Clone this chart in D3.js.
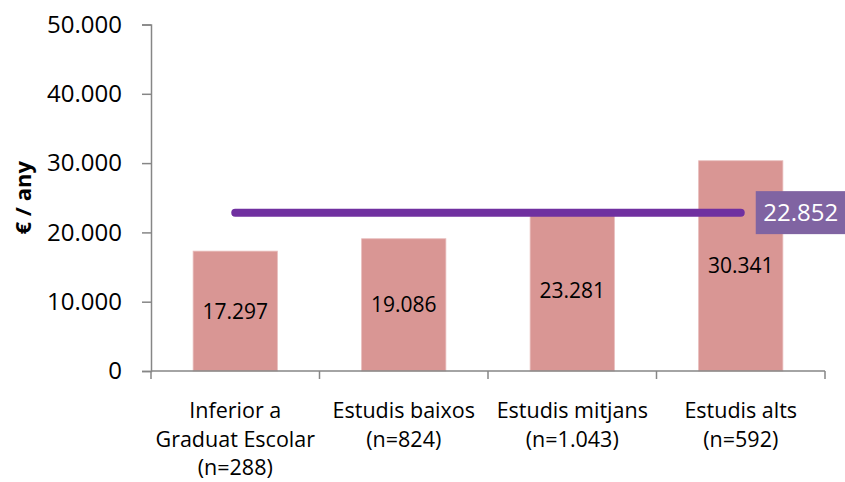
<!DOCTYPE html>
<html>
<head>
<meta charset="utf-8">
<script src="https://cdn.jsdelivr.net/npm/d3@7"></script>
<style>
  body { margin: 0; background: #fff; }
  svg { display: block; font-family: "Open Sans", sans-serif; }
</style>
</head>
<body>
<div id="chart"></div>
<script>
// categories (each label split in lines) and values
var categories = [
    ["Inferior a", "Graduat Escolar", "(n=288)"],
    ["Estudis baixos", "(n=824)"],
    ["Estudis mitjans", "(n=1.043)"],
    ["Estudis alts", "(n=592)"]
];
var values = [17297, 19086, 23281, 30341];
var average = 22852;
var yTicks = [0, 10000, 20000, 30000, 40000, 50000];

var width = 845, height = 482;
var margin = {left: 151, right: 20, top: 24.5, bottom: 111};

var fmt = d3.formatLocale({decimal: ",", thousands: ".", grouping: [3], currency: ["", "€"]}).format(",d");

var svg = d3.select("#chart").append("svg")
    .attr("width", width)
    .attr("height", height);

var x = d3.scaleBand()
    .domain(d3.range(categories.length))
    .range([margin.left, width - margin.right])
    .paddingInner(0.5)
    .paddingOuter(0.25);

var y = d3.scaleLinear()
    .domain([0, 50000])
    .range([height - margin.bottom, margin.top]);

// bars
svg.append("g")
    .selectAll("rect")
    .data(values)
    .join("rect")
    .attr("x", (d, i) => x(i))
    .attr("y", d => y(d))
    .attr("width", x.bandwidth())
    .attr("height", d => y(0) - y(d))
    .attr("fill", "#D99694")
    .attr("stroke", "#E8BDBC")
    .attr("stroke-width", 0.8);

// bar labels, centred in the bar
svg.append("g")
    .selectAll("text")
    .data(values)
    .join("text")
    .attr("x", (d, i) => x(i) + x.bandwidth() / 2)
    .attr("y", d => (y(d) + y(0)) / 2)
    .attr("dy", "0.36em")
    .attr("text-anchor", "middle")
    .attr("font-size", 21)
    .attr("fill", "#000")
    .text(d => fmt(d));

// y axis
var yAxis = svg.append("g")
    .attr("transform", `translate(${margin.left},0)`)
    .call(d3.axisLeft(y).tickValues(yTicks).tickSize(9).tickPadding(20).tickFormat(fmt));
yAxis.select(".domain").attr("stroke", "#868686").attr("stroke-width", 1.5);
yAxis.selectAll(".tick line").attr("stroke", "#868686").attr("stroke-width", 1.5);
yAxis.selectAll(".tick text")
    .attr("font-size", 24)
    .attr("font-family", "Open Sans, sans-serif")
    .attr("fill", "#000");

// x axis: ticks at category boundaries
var xAxisG = svg.append("g");
xAxisG.append("line")
    .attr("x1", margin.left).attr("x2", width - margin.right)
    .attr("y1", y(0)).attr("y2", y(0))
    .attr("stroke", "#868686").attr("stroke-width", 1.5);
var bounds = d3.range(categories.length + 1).map(i => margin.left + i * x.step());
xAxisG.selectAll("line.tk")
    .data(bounds)
    .join("line")
    .attr("class", "tk")
    .attr("x1", d => d).attr("x2", d => d)
    .attr("y1", y(0)).attr("y2", y(0) + 8)
    .attr("stroke", "#868686").attr("stroke-width", 1.5);

// category labels
var catText = svg.append("g")
    .selectAll("text")
    .data(categories)
    .join("text")
    .attr("text-anchor", "middle")
    .attr("font-size", 21.5)
    .attr("fill", "#000")
    .attr("transform", (d, i) => `translate(${x(i) + x.bandwidth() / 2},${y(0) + 47})`);
catText.selectAll("tspan")
    .data(d => d)
    .join("tspan")
    .attr("x", 0)
    .attr("y", (d, i) => i * 28.5)
    .text(d => d);

// y axis title
svg.append("text")
    .attr("transform", `translate(31,${(y(0) + y(50000)) / 2}) rotate(-90)`)
    .attr("text-anchor", "middle")
    .attr("font-size", 22)
    .attr("font-weight", "bold")
    .attr("fill", "#000")
    .text("€ / any");

// average line
var xStart = x(0) + x.bandwidth() / 2;
var xEnd = x(categories.length - 1) + x.bandwidth() / 2;
svg.append("line")
    .attr("x1", xStart).attr("x2", xEnd)
    .attr("y1", y(average)).attr("y2", y(average))
    .attr("stroke", "#7030A0")
    .attr("stroke-width", 8)
    .attr("stroke-linecap", "round");

// average label box
var boxW = 92, boxH = 43;
var bx = xEnd + 15, by = y(average) - boxH / 2;
svg.append("rect")
    .attr("x", bx).attr("y", by)
    .attr("width", boxW).attr("height", boxH)
    .attr("fill", "#8064A2");
svg.append("text")
    .attr("x", bx + boxW / 2 - 1)
    .attr("y", y(average))
    .attr("dy", "0.36em")
    .attr("text-anchor", "middle")
    .attr("font-size", 24)
    .attr("fill", "#fff")
    .text(fmt(average));
</script>
</body>
</html>
